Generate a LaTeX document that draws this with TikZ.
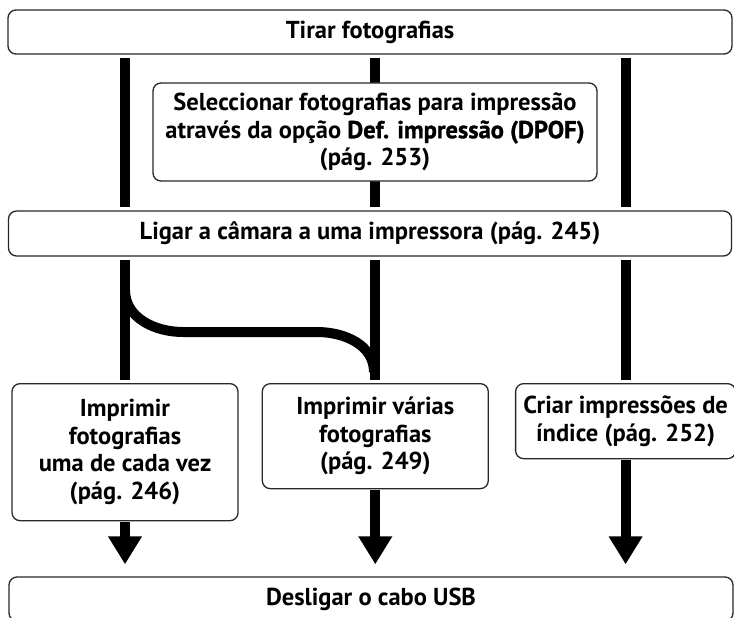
\documentclass[tikz,border=0pt]{standalone}
\usepackage{fontspec}
\setmainfont{PT Sans}
\newfontfamily\ptheavy{PT Sans}[BoldFeatures={FakeBold=1.2}]
\usetikzlibrary{positioning,arrows.meta,backgrounds}
\definecolor{boxline}{RGB}{40,40,40}

\begin{document}
\begin{tikzpicture}[x=1pt, y=-1pt, box/.style={draw=boxline, line width=1.3pt, rounded corners=8pt, fill=white, align=center, font=\fontsize{24.5}{27.5}\selectfont\bfseries, inner sep=0pt}, bar/.style={line width=10pt, shorten <=3pt, shorten >=3pt}, arr/.style={line width=10pt, -{Triangle[width=32pt,length=28pt]}, shorten <=1pt, shorten >=12pt}]
\useasboundingbox (0,0) rectangle (734,618);
\node[box, minimum width=724pt, minimum height=44pt] (top) at (370,32) {Tirar fotografias};
\node[box, minimum width=444pt, minimum height=98pt] (sel) at (375,132) {Seleccionar fotografias para impressão\\através da opção {\ptheavy\bfseries Def. impressão (DPOF)}\\(pág. 253)};
\node[box, minimum width=723pt, minimum height=45pt] (ligar) at (370,233.5) {Ligar a câmara a uma impressora (pág. 245)};
\node[box, minimum width=226pt, minimum height=137pt, anchor=north] (one) at (125,383) {Imprimir\\fotografias\\uma de cada vez\\(pág. 246)};
\node[box, minimum width=226pt, minimum height=105pt, right=23pt of one.north east, anchor=north west] (many) {Imprimir várias\\fotografias\\(pág. 249)};
\node[box, minimum width=220pt, minimum height=75pt, right=26pt of many.north east, anchor=north west] (index) {Criar impressões de\\índice (pág. 252)};
\node[box, minimum width=724pt, minimum height=44pt] (usb) at (371,599) {Desligar o cabo USB};
\coordinate (fork) at (125,290);
\coordinate (join) at (374,372);
\begin{scope}[on background layer]
\draw[bar] (top.south -| one) -- (ligar.north -| one);
\draw[bar] (top.south -| many) -- (ligar.north -| many);
\draw[bar] (top.south -| index) -- (ligar.north -| index);
\draw[bar] (ligar.south -| one) -- (one.north);
\draw[bar] (ligar.south -| many) -- (many.north);
\draw[bar] (ligar.south -| index) -- (index.north);
\draw[line width=10pt] (fork) to[out=-90, in=180] ++(58,42) -- ++(134,0) to[out=0, in=90] (join);
\end{scope}
\draw[arr] (one.south) -- (one.south |- usb.north);
\draw[arr] (many.south) -- (many.south |- usb.north);
\draw[arr] (index.south) -- (index.south |- usb.north);
\end{tikzpicture}
\end{document}
